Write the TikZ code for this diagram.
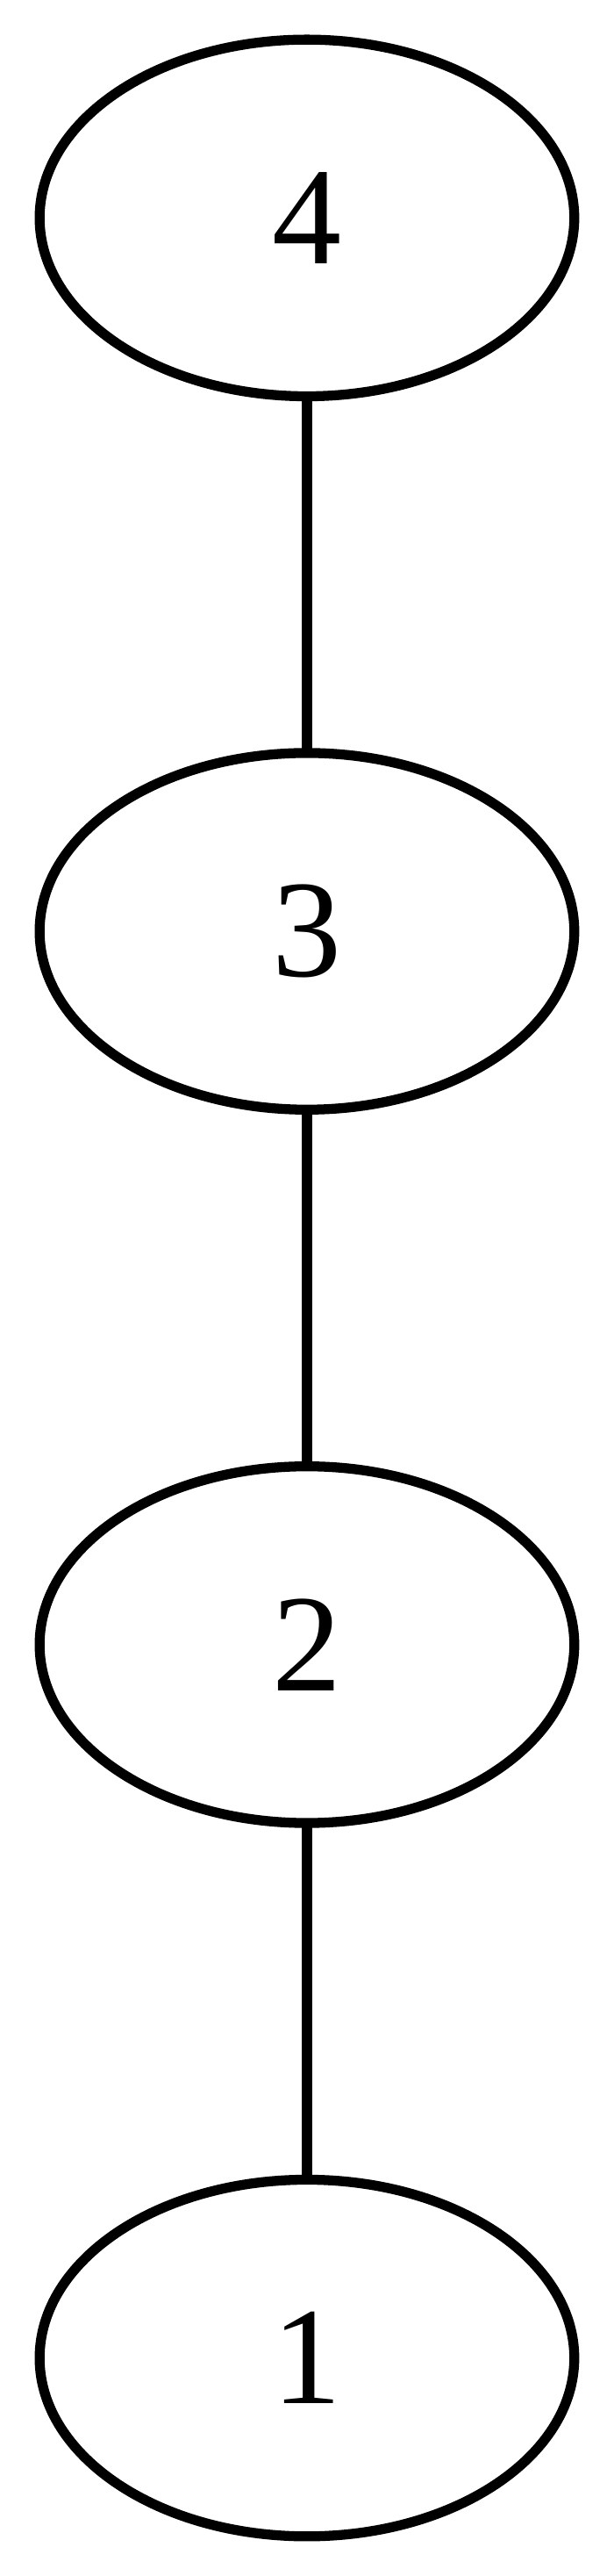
\documentclass[tikz,border=0pt]{standalone}
\usepackage{fontspec}
\setmainfont{Liberation Serif}
\usetikzlibrary{shapes.geometric,positioning}
\tikzset{
    vertex/.style={draw, ellipse, line width=1pt, minimum width=54pt, minimum height=36pt,
        inner sep=0pt, outer sep=0pt, font=\fontsize{14}{16}\selectfont},
    link/.style={line width=1pt}
}
\begin{document}
\begin{tikzpicture}
    \useasboundingbox (0,0) rectangle (62pt,260pt);

    % Vertices
    \node[vertex] (n4) at (31pt,238pt) {4};
    \node[vertex, below=36pt of n4] (n3) {3};
    \node[vertex, below=36pt of n3] (n2) {2};
    \node[vertex, below=36pt of n2] (n1) {1};

    % Edges
    \foreach \a/\b in {4/3, 3/2, 2/1} {
        \draw[link] (n\a) -- (n\b);
    }
\end{tikzpicture}
\end{document}
